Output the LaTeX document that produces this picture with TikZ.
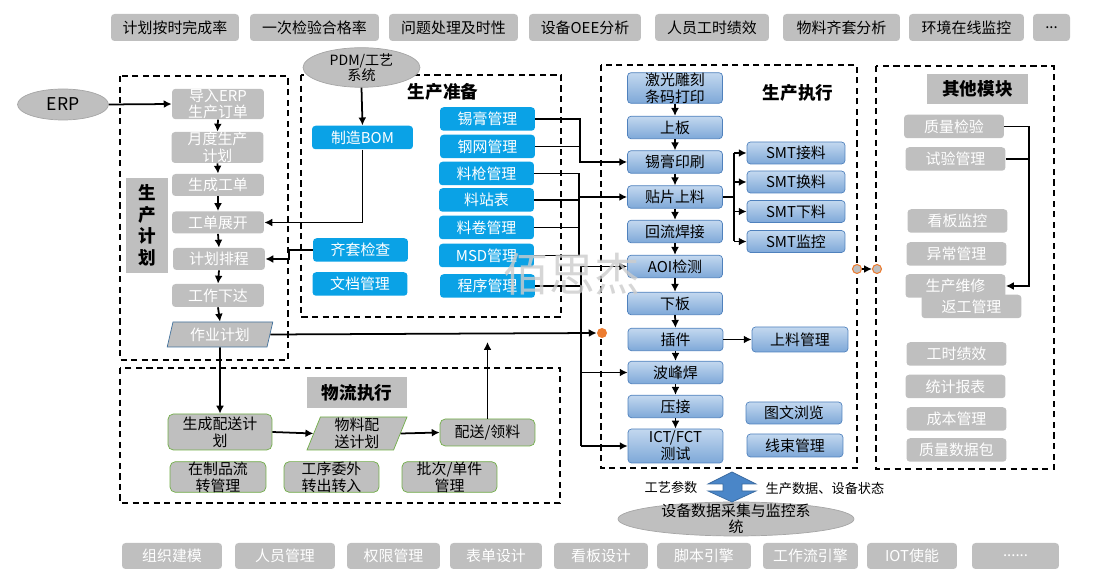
\documentclass[tikz,border=0pt]{standalone}
\usepackage{fontspec}
\setmainfont{Noto Sans CJK SC}
\usepackage{tikz}
\usepackage{xcolor}
\usetikzlibrary{shapes.geometric,arrows.meta}
\definecolor{boxgray}{HTML}{BFBFBF}
\definecolor{prepblue}{HTML}{0AA2E6}
\definecolor{exectop}{HTML}{C3D8EF}
\definecolor{execbot}{HTML}{7EA8D8}
\definecolor{execline}{HTML}{4F81BD}
\definecolor{logigreen}{HTML}{70AD47}
\definecolor{dotorange}{HTML}{ED7D31}
\definecolor{bigarrow}{HTML}{4A86C8}
\definecolor{planline}{HTML}{41719C}

\begin{document}
\begin{tikzpicture}[x=0.02cm, y=-0.02cm,
    every node/.style={font=\fontsize{8.5}{9.6}\selectfont, inner sep=0pt, align=center},
    tbox/.style={fill=boxgray, rounded corners=2pt, minimum height=0.54cm},
    bbox/.style={fill=boxgray, rounded corners=2pt, text=white, minimum height=0.52cm},
    gbox/.style={fill=boxgray, rounded corners=2pt, text=white, minimum width=1.84cm, minimum height=0.44cm},
    obox/.style={fill=boxgray, rounded corners=2pt, text=white, minimum width=2cm, minimum height=0.47cm},
    pbox/.style={fill=prepblue, rounded corners=2pt, text=white, minimum width=1.9cm, minimum height=0.47cm},
    ebox/.style={top color=exectop, bottom color=execbot, draw=execline, rounded corners=2pt, minimum width=1.9cm, minimum height=0.45cm},
    lbox/.style={fill=boxgray, draw=logigreen, rounded corners=3pt, minimum width=1.92cm, minimum height=0.6cm},
    slant/.style={trapezium, trapezium left angle=75, trapezium right angle=105, trapezium stretches=true, fill=boxgray},
    head/.style={fill=boxgray, font=\fontsize{10}{12.3}\selectfont\bfseries},
    area/.style={draw, line width=1.1pt, dash pattern=on 3.5pt off 2.5pt},
    arr/.style={-{Latex[length=4.5pt,width=4.5pt]}, line width=1pt},
    link/.style={line width=1pt},
    port/.style={circle, fill=boxgray, draw=dotorange, line width=0.6pt, minimum size=0.18cm}]
  \useasboundingbox (0,0) rectangle (1110,580);
  % Indicators
  \node[tbox, minimum width=2.56cm] (kpiA) at (175,27.5) {计划按时完成率};
  \node[tbox, minimum width=2.58cm] (kpiB) at (314.5,27.5) {一次检验合格率};
  \node[tbox, minimum width=2.58cm] (kpiC) at (453.5,27.5) {问题处理及时性};
  \node[tbox, minimum width=2.24cm] (kpiD) at (585,27.5) {设备OEE分析};
  \node[tbox, minimum width=2.28cm] (kpiE) at (712,27.5) {人员工时绩效};
  \node[tbox, minimum width=2.34cm] (kpiF) at (841.5,27.5) {物料齐套分析};
  \node[tbox, minimum width=2.30cm] (kpiG) at (966.5,27.5) {环境在线监控};
  \node[tbox, minimum width=0.74cm] (kpiH) at (1051.5,27.5) {{.}{.}{.}};
  % Platform
  \node[bbox, minimum width=2.0cm] (baseA) at (172,556) {组织建模};
  \node[bbox, minimum width=2.0cm] (baseB) at (285,556) {人员管理};
  \node[bbox, minimum width=1.86cm] (baseC) at (393.5,556) {权限管理};
  \node[bbox, minimum width=1.84cm] (baseD) at (496,556) {表单设计};
  \node[bbox, minimum width=1.88cm] (baseE) at (601,556) {看板设计};
  \node[bbox, minimum width=1.88cm] (baseF) at (704,556) {脚本引擎};
  \node[bbox, minimum width=1.9cm] (baseG) at (810.5,556) {工作流引擎};
  \node[bbox, minimum width=1.8cm] (baseH) at (912,556) {IOT使能};
  \node[bbox, minimum width=1.74cm] (baseI) at (1015.5,556) {{.}{.}{.}{.}{.}{.}};
  % Production plan
  \draw[area] (120,76) rectangle (288,360);
  \node[ellipse, fill=boxgray, draw=gray!70, minimum width=1.82cm, minimum height=0.62cm,
    font=\fontsize{10}{12}\selectfont] (erp) at (63,104.5) {ERP};
  \node[gbox, minimum height=0.56cm] (import) at (218,104) {导入ERP\\生产订单};
  \node[gbox, minimum height=0.62cm] (month) at (217.5,147.5) {月度生产\\计划};
  \node[gbox] (wo) at (218,185) {生成工单};
  \node[gbox] (expand) at (218,222.5) {工单展开};
  \node[gbox] (sched) at (219,259) {计划排程};
  \node[gbox, minimum height=0.46cm] (issue) at (218,295.5) {工作下达};
  \node[slant, draw=planline, text=white, minimum width=2.12cm, minimum height=0.5cm] (plan) at (220,334.5) {作业计划};
  \node[head, minimum width=0.84cm, minimum height=1.9cm] (planlabel) at (147,225.5) {生\\产\\计\\划};
  \draw[arr] (erp.east) -- (import.west);
  \draw[arr] (import.south) -- (month.north);
  \draw[arr] (month.south) -- (wo.north);
  \draw[arr] (wo.south) -- (expand.north);
  \draw[arr] (expand.south) -- (sched.north);
  \draw[arr] (sched.south) -- (issue.north);
  \draw[arr] (issue.south) -- (plan.north);
  % Production preparation
  \draw[area] (301,75) rectangle (561,317);
  \node[ellipse, fill=boxgray, draw=gray!70, minimum width=2.34cm, minimum height=0.66cm,
    font=\fontsize{8}{8.6}\selectfont] (pdm) at (361.5,67.5) {PDM/工艺\\系统};
  \node[font=\fontsize{10}{12}\selectfont\bfseries] (preplabel) at (443,92) {生产准备};
  \node[pbox, minimum width=2.02cm] (bom) at (362.5,137.5) {制造BOM};
  \node[pbox] (kit) at (360.5,250) {齐套检查};
  \node[pbox] (docs) at (360,284) {文档管理};
  \node[pbox] (paste) at (487.5,119) {锡膏管理};
  \node[pbox] (stencil) at (487.5,146.5) {钢网管理};
  \node[pbox] (gun) at (486.5,173.5) {料枪管理};
  \node[pbox] (station) at (486.5,200) {料站表};
  \node[pbox] (reel) at (486.5,227.5) {料卷管理};
  \node[pbox] (msd) at (486.5,255.5) {MSD管理};
  \node[pbox] (prog) at (487.5,286) {程序管理};
  \draw[arr] (pdm.south) -- (bom.north);
  \draw[arr] (bom.south) |- (expand.east);
  \draw[arr] (kit.west) -- ++(-24,0) |- (sched.east);
  % Production execution
  \draw[area] (601,65) rectangle (857,468);
  \node[font=\fontsize{10}{12}\selectfont\bfseries] (execlabel) at (798,93) {生产执行};
  \node[ebox, minimum height=0.6cm] (laser) at (675,88) {激光雕刻\\条码打印};
  \node[ebox] (load) at (675,127.5) {上板};
  \node[ebox] (print) at (675,162) {锡膏印刷};
  \node[ebox] (mount) at (675,197) {贴片上料};
  \node[ebox] (reflow) at (675,231.5) {回流焊接};
  \node[ebox] (aoi) at (675,266.5) {AOI检测};
  \node[ebox] (unload) at (675,303.5) {下板};
  \node[ebox] (insert) at (675.5,339.5) {插件};
  \node[ebox] (wave) at (675.5,372.5) {波峰焊};
  \node[ebox] (press) at (675.5,406.5) {压接};
  \node[ebox, minimum height=0.68cm] (ict) at (675.5,446) {ICT/FCT\\测试};
  \node[ebox, minimum width=1.96cm, minimum height=0.44cm] (splice) at (796,153) {SMT接料};
  \node[ebox, minimum width=1.96cm, minimum height=0.44cm] (change) at (796,182) {SMT换料};
  \node[ebox, minimum width=1.96cm, minimum height=0.44cm] (takeoff) at (796,211.5) {SMT下料};
  \node[ebox, minimum width=1.96cm, minimum height=0.44cm] (watch) at (796,241.5) {SMT监控};
  \node[ebox, minimum width=1.92cm, minimum height=0.5cm] (feedmgr) at (800,339.5) {上料管理};
  \node[ebox, minimum width=1.92cm, minimum height=0.44cm] (docview) at (794,413) {图文浏览};
  \node[ebox, minimum width=1.92cm, minimum height=0.46cm] (harness) at (795,445.5) {线束管理};
  \draw[arr] (laser.south) -- (load.north);
  \draw[arr] (load.south) -- (print.north);
  \draw[arr] (print.south) -- (mount.north);
  \draw[arr] (mount.south) -- (reflow.north);
  \draw[arr] (reflow.south) -- (aoi.north);
  \draw[arr] (aoi.south) -- (unload.north);
  \draw[arr] (unload.south) -- (insert.north);
  \draw[arr] (insert.south) -- (wave.north);
  \draw[arr] (wave.south) -- (press.north);
  \draw[arr] (press.south) -- (ict.north);
  \draw[arr] (insert.east) -- (feedmgr.west);
  % SMT branches
  \coordinate (busD) at (734,0);
  \draw[link] (mount.east) -- (mount.east -| busD);
  \draw[link] (busD |- splice.west) -- (busD |- watch.west);
  \draw[arr] (busD |- splice.west) -- (splice.west);
  \draw[arr] (busD |- change.west) -- (change.west);
  \draw[arr] (busD |- takeoff.west) -- (takeoff.west);
  \draw[arr] (busD |- watch.west) -- (watch.west);
  % Preparation to execution
  \coordinate (busA) at (580,0);
  \coordinate (busB) at (579,0);
  \coordinate (busC) at (581,0);
  \draw[arr] (paste.east) -| (busA |- print.west) -- (print.west);
  \draw[link] (stencil.east) -- (stencil.east -| busA);
  \draw[link] (gun.east) -| (busB |- msd.east) -- (msd.east);
  \draw[link] (station.east) -- (station.east -| busB);
  \draw[link] (reel.east) -- (reel.east -| busB);
  \draw[arr] (busB |- mount.west) -- (mount.west);
  \draw[link] (prog.east) -- (prog.east -| busC);
  \draw[link] (busC |- aoi.west) -- (busC |- ict.west);
  \draw[arr] (busC |- aoi.west) -- (aoi.west);
  \draw[arr] (busC |- wave.west) -- (wave.west);
  \draw[arr] (busC |- ict.west) -- (ict.west);
  % Plan to execution
  \node[circle, fill=dotorange, minimum size=0.2cm] (dotA) at (602,333) {};
  \draw[arr] (plan.east) -- (dotA.west);
  % Other modules
  \draw[area] (876,66) rectangle (1054,469);
  \node[head, minimum width=2.02cm, minimum height=0.6cm] (othertitle) at (977.5,89) {其他模块};
  \node[obox] (qc) at (954,126.5) {质量检验};
  \node[obox] (trial) at (955.5,159) {试验管理};
  \node[obox] (board) at (957.5,221) {看板监控};
  \node[obox] (abnormal) at (956.5,254) {异常管理};
  \node[obox] (repair) at (955.5,286) {生产维修};
  \node[obox] (rework) at (971.5,306.5) {返工管理};
  \node[obox] (hours) at (956.5,354) {工时绩效};
  \node[obox] (report) at (955.5,386.5) {统计报表};
  \node[obox] (cost) at (956.5,419) {成本管理};
  \node[obox] (qpack) at (956.5,450) {质量数据包};
  \coordinate (busE) at (1029,0);
  \draw[arr] (qc.east) -| (busE |- repair.east) -- (repair.east);
  \draw[link] (trial.east) -- (trial.east -| busE);
  \node[port] (dotB) at (857,269) {};
  \node[port] (dotC) at (877,269) {};
  \draw[arr] (dotB.east) -- (dotC.west);
  % Logistics
  \draw[area] (120,368) rectangle (560,503);
  \node[head, minimum width=2cm, minimum height=0.62cm] (logititle) at (357,392.5) {物流执行};
  \node[lbox, minimum width=2.08cm, minimum height=0.72cm] (gendist) at (220,432) {生成配送计\\划};
  \node[slant, draw=logigreen, minimum width=2cm, minimum height=0.66cm] (matplan) at (357,433.5) {物料配\\送计划};
  \node[lbox, minimum width=1.9cm, minimum height=0.54cm] (pick) at (487.5,432.5) {配送/领料};
  \node[lbox] (wip) at (218,477) {在制品流\\转管理};
  \node[lbox, minimum width=1.9cm] (outsrc) at (331.5,477) {工序委外\\转出转入};
  \node[lbox, minimum width=1.9cm] (batch) at (449.5,477) {批次/单件\\管理};
  \coordinate (pickup) at (487.5,342);
  \draw[arr] (plan.south) -- (gendist.north);
  \draw[arr] (gendist.east) -- (matplan.west);
  \draw[arr] (matplan.east) -- (pick.west);
  \draw[arr] (pick.north) -- (pickup);
  % Equipment data
  \node[ellipse, fill=boxgray, draw=gray!70, minimum width=4.72cm, minimum height=0.68cm] (eqp) at (736,519) {};
  \node[font=\fontsize{8.5}{9.2}\selectfont] (eqptext) at (736,519) {设备数据采集与监控系\\统};
  \filldraw[fill=bigarrow, draw=bigarrow!80!black, line width=0.4pt] (732,472) -- (756,484) -- (742,484)
    -- (742,491) -- (756,491) -- (732,502) -- (708,491) -- (723,491) -- (723,484) -- (708,484) -- cycle;
  \node[font=\fontsize{7.5}{9}\selectfont] (parm) at (671,487) {工艺参数};
  \node[font=\fontsize{7.5}{9}\selectfont] (prodata) at (825,489) {生产数据、设备状态};
  % Watermark
  \node[text=gray!40, opacity=0.8, font=\fontsize{26}{26}\selectfont] (mark) at (572,274) {佰思杰};
\end{tikzpicture}
\end{document}
